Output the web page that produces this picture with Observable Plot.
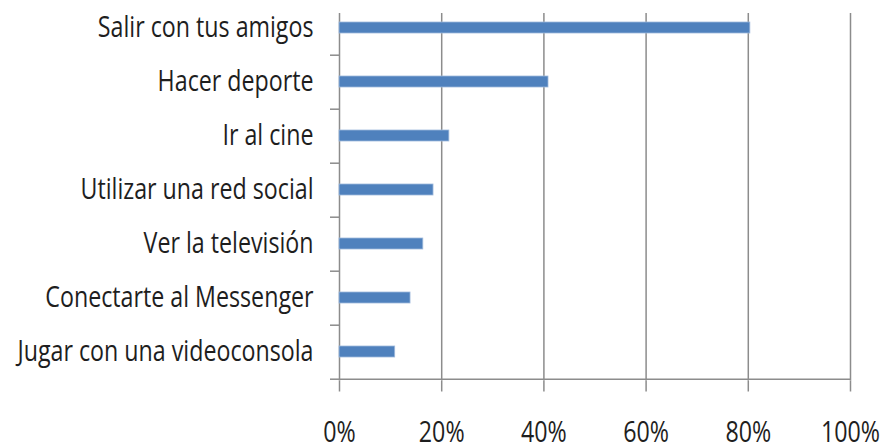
<!DOCTYPE html>
<html><head><meta charset="utf-8">
<script src="https://cdn.jsdelivr.net/npm/d3@7"></script>
<script src="https://cdn.jsdelivr.net/npm/@observablehq/plot@0.6"></script>
<style>body{margin:0;background:#fff} svg{display:block}</style>
</head><body><div id="chart"></div>
<script>
const categories = ["Salir con tus amigos","Hacer deporte","Ir al cine","Utilizar una red social","Ver la televisión","Conectarte al Messenger","Jugar con una videoconsola"];
const values = [80.4, 40.9, 21.5, 18.4, 16.4, 13.9, 10.9];
const xTicks = [0, 20, 40, 60, 80, 100];
const data = categories.map((c, i) => ({cat: c, value: values[i]}));

const gridColor = "#8c8c8c";
const chart = Plot.plot({
  width: 884, height: 448,
  marginTop: 13, marginBottom: 67.5, marginLeft: 339, marginRight: 34,
  style: {fontFamily: "'Open Sans', sans-serif", fontSize: "29px", color: "#1e1e1e", background: "#fff"},
  x: {domain: [0, 100]},
  y: {domain: categories, range: [-0.5, 380.5], paddingInner: 0.79, paddingOuter: 0.395},
  marks: [
    Plot.gridX(xTicks, {stroke: gridColor, strokeOpacity: 1, strokeWidth: 1.5}),
    Plot.barX(data, {x: "value", y: "cat", fill: "#4f81bd", stroke: "#9fbadc", strokeWidth: 0.8}),
    Plot.ruleY(categories, {y: d => d, x1: -1.76, x2: 0, dy: 27.2, stroke: gridColor, strokeWidth: 1.5}),
    Plot.ruleY(categories.slice(-1), {y: d => d, x1: 0, x2: 100, dy: 27.2, stroke: gridColor, strokeWidth: 1.5}),
    Plot.axisX({ticks: xTicks, tickFormat: d => d + "%", tickSize: 11, tickPadding: 29, stroke: gridColor, strokeWidth: 1.5, label: null}),
    Plot.axisY({tickSize: 0, tickPadding: 26, label: null})
  ]
});
document.getElementById("chart").append(chart);
// Compress glyphs horizontally to mimic the narrow typeface of the original
const texts = Array.from(chart.querySelectorAll("text"));
const ref = texts.find(t => t.textContent === "Jugar con una videoconsola");
const factor = ref ? 296 / ref.getComputedTextLength() : 0.75;
for (const t of texts) {
  const w = t.getComputedTextLength();
  if (w > 0) {
    t.setAttribute("textLength", w * factor);
    t.setAttribute("lengthAdjust", "spacingAndGlyphs");
  }
}
</script>
</body></html>
